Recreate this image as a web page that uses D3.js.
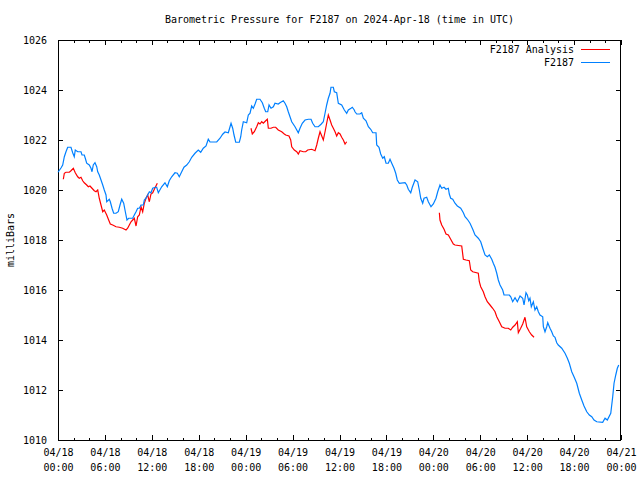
<!DOCTYPE html>
<html>
<head>
<meta charset="utf-8">
<script src="https://cdn.jsdelivr.net/npm/d3@7"></script>
<style>
  html, body { margin: 0; padding: 0; background: #fff; }
  svg { display: block; }
  text { font-family: "DejaVu Sans Mono", "Liberation Mono", monospace; font-size: 10px; fill: #000; }
</style>
</head>
<body>
<svg id="chart" width="640" height="480"></svg>
<script>
// ---- Data (hours after 2024-04-18 00:00 UTC, pressure in millibars) ----
const titleText = "Barometric Pressure for F2187 on 2024-Apr-18 (time in UTC)";
const yLabel = "milliBars";
const seriesNames = ["F2187 Analysis", "F2187"];
const seriesColors = ["#ff0000", "#0080ff"];
const yTicks = [1010, 1012, 1014, 1016, 1018, 1020, 1022, 1024, 1026];

const blueHours = [0,0.38,0.60,0.81,1.02,1.24,1.66,1.88,2.08,2.21,2.52,2.94,3.07,3.36,3.49,3.67,4.00,4.22,4.35,4.51,4.73,4.95,5.08,5.28,5.50,5.72,5.92,6.14,6.23,6.56,6.69,6.91,7.12,7.42,7.71,7.93,8.15,8.40,8.61,8.82,9.04,9.55,9.76,9.98,10.19,10.40,10.62,10.91,11.04,11.25,11.47,11.68,11.89,12.11,12.44,12.62,12.83,13.26,13.68,13.98,14.23,14.54,14.96,15.26,15.51,15.82,16.11,16.46,16.79,17.10,17.52,17.94,18.25,18.58,18.93,19.22,19.44,20.30,20.72,21.06,21.36,21.78,22.13,22.34,22.51,22.73,23.19,23.37,23.49,23.70,24.13,24.34,24.56,24.77,24.98,25.20,25.41,25.83,26.13,26.38,26.56,26.82,26.99,27.24,27.54,27.75,28.17,28.39,28.81,29.03,29.25,29.45,29.67,29.89,30.31,30.73,30.95,31.24,31.59,32.01,32.36,32.57,32.87,33.29,33.64,33.93,34.15,34.36,34.57,34.79,34.91,35.21,35.34,35.64,35.85,36.28,36.62,36.92,37.13,37.47,37.64,37.89,37.98,38.20,38.62,38.84,39.05,39.39,39.69,39.99,40.25,40.67,40.76,41.05,41.27,41.53,41.73,41.95,42.24,42.46,42.68,42.97,43.19,43.39,43.65,44.38,44.60,44.80,45.11,45.31,45.66,46.00,46.21,46.39,46.64,46.81,47.15,47.36,47.70,48.00,48.34,48.56,48.85,49.07,49.37,49.62,49.92,50.04,50.22,50.48,50.77,51.07,51.50,51.84,52.05,52.35,52.69,53.04,53.33,53.75,54.06,54.32,54.61,54.90,55.16,55.47,55.67,55.89,56.11,56.31,56.53,56.87,57.04,57.72,57.90,58.15,58.45,58.74,59.09,59.43,59.60,59.85,60.02,60.20,60.36,60.53,60.79,61.00,61.22,61.43,61.64,61.99,62.07,62.28,62.50,62.63,62.92,63.14,63.35,63.56,63.78,63.98,64.42,64.84,65.14,65.39,65.70,65.99,66.34,66.67,66.98,67.27,67.62,67.95,68.26,68.55,68.90,69.66,69.96,70.25,70.69,70.94,71.11,71.33,71.53,71.71];
const bluePressure = [1020.71,1020.88,1021.00,1021.33,1021.53,1021.71,1021.71,1021.49,1021.33,1021.60,1021.53,1021.53,1021.40,1021.40,1021.27,1021.07,1021.00,1020.87,1020.73,1021.00,1021.09,1020.93,1020.73,1020.60,1020.40,1020.20,1020.00,1019.80,1019.53,1019.63,1019.53,1019.27,1019.07,1019.07,1019.13,1019.40,1019.63,1019.47,1019.13,1018.80,1018.87,1018.87,1019.00,1019.13,1019.27,1019.27,1019.40,1019.40,1019.60,1019.67,1019.80,1019.93,1019.89,1020.07,1020.11,1020.11,1019.89,1020.13,1020.29,1020.13,1020.37,1020.53,1020.69,1020.67,1020.53,1020.73,1020.91,1021.00,1021.13,1021.31,1021.47,1021.60,1021.51,1021.67,1021.76,1022.03,1021.92,1021.92,1022.07,1022.23,1022.32,1022.29,1022.67,1022.47,1022.20,1021.91,1021.91,1022.13,1022.40,1022.73,1022.69,1023.00,1023.07,1023.36,1023.27,1023.44,1023.63,1023.63,1023.49,1023.27,1023.13,1023.13,1023.40,1023.27,1023.33,1023.47,1023.44,1023.49,1023.57,1023.47,1023.33,1023.13,1022.93,1022.73,1022.53,1022.29,1022.47,1022.67,1022.80,1022.83,1022.83,1022.67,1022.53,1022.53,1022.63,1022.73,1023.07,1023.40,1023.67,1023.87,1024.11,1024.11,1023.93,1023.89,1023.47,1023.40,1023.20,1023.07,1023.20,1023.27,1023.31,1023.20,1023.13,1023.04,1023.04,1023.09,1022.87,1022.77,1022.53,1022.43,1022.29,1022.29,1021.80,1021.71,1021.44,1021.27,1021.33,1021.07,1021.07,1021.23,1021.07,1020.87,1020.67,1020.40,1020.27,1020.29,1020.20,1020.03,1019.89,1020.11,1020.40,1020.33,1020.00,1019.67,1019.47,1019.67,1019.71,1019.53,1019.33,1019.44,1019.67,1019.93,1020.20,1020.07,1020.11,1020.03,1020.07,1019.84,1019.67,1019.63,1019.47,1019.36,1019.27,1019.09,1018.93,1018.83,1018.67,1018.43,1018.20,1018.07,1017.93,1017.67,1017.40,1017.33,1017.40,1017.23,1017.07,1016.91,1016.67,1016.40,1016.20,1016.00,1015.80,1015.80,1015.73,1015.53,1015.69,1015.53,1015.76,1015.67,1015.40,1015.89,1015.80,1015.57,1015.67,1015.33,1015.53,1015.20,1015.33,1015.13,1015.00,1014.93,1014.53,1014.33,1014.53,1014.69,1014.47,1014.33,1014.16,1014.11,1013.89,1013.80,1013.67,1013.47,1013.27,1013.07,1012.73,1012.53,1012.27,1011.87,1011.60,1011.36,1011.13,1011.00,1010.93,1010.80,1010.73,1010.71,1010.87,1010.80,1011.07,1011.73,1012.27,1012.60,1012.87,1013.00];

// Analysis series: null marks a gap between runs
const redHours = [0.68,0.81,1.02,1.45,1.66,1.96,2.21,2.52,2.72,2.94,3.16,3.36,3.67,3.88,4.09,4.35,4.64,4.86,5.08,5.28,5.50,5.72,5.92,6.23,6.48,6.69,7.00,7.42,7.84,8.27,8.70,8.91,9.12,9.34,9.55,9.76,9.98,10.19,10.40,10.62,10.83,11.04,11.25,11.47,11.68,11.89,12.11,12.32,12.70,
  null,
  24.68,24.85,25.11,25.41,25.62,25.83,26.05,26.26,26.56,26.77,26.90,27.24,27.54,27.84,28.17,28.61,28.94,29.12,29.54,29.76,29.89,30.22,30.53,30.73,30.95,31.37,31.68,31.93,32.45,32.87,33.09,33.29,33.51,33.73,33.93,34.15,34.36,34.57,34.79,35.00,35.21,35.43,35.64,35.85,36.07,36.28,36.49,36.71,36.92,
  null,
  48.77,48.85,49.07,49.37,49.62,49.92,50.22,50.56,50.77,51.63,51.84,52.18,52.60,52.78,53.04,53.75,53.88,54.06,54.39,54.61,54.90,55.25,55.59,55.89,56.11,56.44,56.75,57.17,57.59,57.90,58.15,58.45,58.74,58.87,59.17,59.43,59.72,59.94,60.28,60.58,60.88];
const redPressure = [1020.43,1020.67,1020.71,1020.71,1020.77,1020.87,1020.69,1020.53,1020.47,1020.51,1020.37,1020.29,1020.20,1020.13,1020.16,1020.07,1019.97,1019.93,1020.00,1019.67,1019.40,1019.13,1019.20,1019.00,1018.80,1018.64,1018.60,1018.53,1018.51,1018.47,1018.40,1018.47,1018.60,1018.73,1018.80,1018.87,1018.56,1018.93,1019.00,1019.33,1019.13,1019.47,1019.67,1019.80,1019.53,1019.84,1019.89,1020.03,1020.27,
  null,
  1022.47,1022.24,1022.33,1022.53,1022.69,1022.64,1022.73,1022.67,1022.77,1022.83,1022.47,1022.47,1022.51,1022.51,1022.40,1022.33,1022.24,1022.20,1022.16,1022.00,1021.73,1021.60,1021.53,1021.44,1021.57,1021.53,1021.53,1021.60,1021.63,1021.57,1021.80,1022.07,1022.33,1022.16,1022.00,1022.33,1022.67,1023.00,1022.80,1022.60,1022.47,1022.33,1022.16,1022.29,1022.24,1022.11,1022.00,1021.84,1021.93,
  null,
  1019.09,1018.80,1018.60,1018.43,1018.24,1018.20,1018.03,1017.84,1017.80,1017.76,1017.23,1017.20,1017.17,1016.80,1016.73,1016.67,1016.33,1016.13,1015.93,1015.73,1015.53,1015.40,1015.27,1015.13,1014.93,1014.73,1014.53,1014.47,1014.47,1014.40,1014.51,1014.60,1014.73,1014.29,1014.47,1014.64,1014.91,1014.53,1014.33,1014.20,1014.11];

// ---- Layout ----
const svg = d3.select("#chart");
const L = 58, R = 621, T = 40, B = 440;
const t0 = Date.UTC(2024, 3, 18, 0, 0);
const t1 = Date.UTC(2024, 3, 21, 0, 0);
const toDate = h => new Date(t0 + h * 3600e3);

const x = d3.scaleUtc().domain([new Date(t0), new Date(t1)]).range([L, R]);
const y = d3.scaleLinear().domain([1010, 1026]).range([B, T]);

const majorTicks = d3.utcHour.every(6).range(new Date(t0), new Date(t1 + 1));
const minorTicks = d3.utcHour.every(2).range(new Date(t0), new Date(t1 + 1))
  .filter(d => d.getUTCHours() % 6 !== 0);

const fmtDate = d3.utcFormat("%m/%d");
const fmtTime = d3.utcFormat("%H:%M");

// Bottom axis (inward ticks)
const gx = svg.append("g").attr("transform", `translate(0,${B})`)
  .call(d3.axisBottom(x).tickValues(majorTicks).tickSizeInner(-5).tickSizeOuter(0).tickFormat(""));
gx.select(".domain").remove();
gx.selectAll(".tick line").attr("stroke", "#000").attr("shape-rendering", "crispEdges");
gx.selectAll(".tick").each(function(d) {
  const t = d3.select(this).append("text").attr("text-anchor", "middle");
  t.append("tspan").attr("x", 0).attr("y", 16).text(fmtDate(d));
  t.append("tspan").attr("x", 0).attr("y", 31).text(fmtTime(d));
});
svg.append("g").attr("transform", `translate(0,${B})`)
  .call(d3.axisBottom(x).tickValues(minorTicks).tickSizeInner(-2.5).tickSizeOuter(0).tickFormat(""))
  .call(g => g.select(".domain").remove())
  .selectAll(".tick line").attr("stroke", "#000").attr("shape-rendering", "crispEdges");

// Top axis (mirror ticks)
svg.append("g").attr("transform", `translate(0,${T})`)
  .call(d3.axisTop(x).tickValues(majorTicks).tickSizeInner(-5).tickSizeOuter(0).tickFormat(""))
  .call(g => g.select(".domain").remove())
  .selectAll(".tick line").attr("stroke", "#000").attr("shape-rendering", "crispEdges");
svg.append("g").attr("transform", `translate(0,${T})`)
  .call(d3.axisTop(x).tickValues(minorTicks).tickSizeInner(-2.5).tickSizeOuter(0).tickFormat(""))
  .call(g => g.select(".domain").remove())
  .selectAll(".tick line").attr("stroke", "#000").attr("shape-rendering", "crispEdges");

// Left axis
const gy = svg.append("g").attr("transform", `translate(${L},0)`)
  .call(d3.axisLeft(y).tickValues(yTicks).tickSizeInner(-5).tickSizeOuter(0).tickPadding(11).tickFormat(d3.format("d")));
gy.select(".domain").remove();
gy.selectAll(".tick line").attr("stroke", "#000").attr("shape-rendering", "crispEdges");
gx.attr("font-size", null).attr("font-family", null);
gy.attr("font-size", null).attr("font-family", null);

// Right axis (mirror ticks)
svg.append("g").attr("transform", `translate(${R},0)`)
  .call(d3.axisRight(y).tickValues(yTicks).tickSizeInner(-5).tickSizeOuter(0).tickFormat(""))
  .call(g => g.select(".domain").remove())
  .selectAll(".tick line").attr("stroke", "#000").attr("shape-rendering", "crispEdges");

// Frame
svg.append("rect").attr("x", L + 0.5).attr("y", T + 0.5)
  .attr("width", R - L - 1).attr("height", B - T)
  .attr("fill", "none").attr("stroke", "#000").attr("shape-rendering", "crispEdges");

// Lines
const line = d3.line()
  .defined(d => d[0] !== null && d[1] !== null)
  .x(d => x(toDate(d[0]))).y(d => y(d[1]));

const redData = redHours.map((h, i) => [h, redPressure[i]]);
const blueData = blueHours.map((h, i) => [h, bluePressure[i]]);

svg.append("path").datum(redData).attr("d", line)
  .attr("fill", "none").attr("stroke", seriesColors[0]).attr("stroke-width", 1.2);
svg.append("path").datum(blueData).attr("d", line)
  .attr("fill", "none").attr("stroke", seriesColors[1]).attr("stroke-width", 1.2);

// Title
svg.append("text").attr("x", (L + R) / 2).attr("y", 23)
  .attr("text-anchor", "middle").text(titleText);

// Y label
svg.append("text").attr("transform", "translate(14,240) rotate(-90)")
  .attr("text-anchor", "middle").text(yLabel);

// Legend
const legend = svg.append("g");
seriesNames.forEach((name, i) => {
  const yy = 49 + i * 13;
  legend.append("text").attr("x", 574).attr("y", yy + 3.5).attr("text-anchor", "end").text(name);
  legend.append("line").attr("x1", 581).attr("x2", 610).attr("y1", yy + 0.5).attr("y2", yy + 0.5)
    .attr("stroke", seriesColors[i]).attr("stroke-width", 1).attr("shape-rendering", "crispEdges");
});
</script>
</body>
</html>
